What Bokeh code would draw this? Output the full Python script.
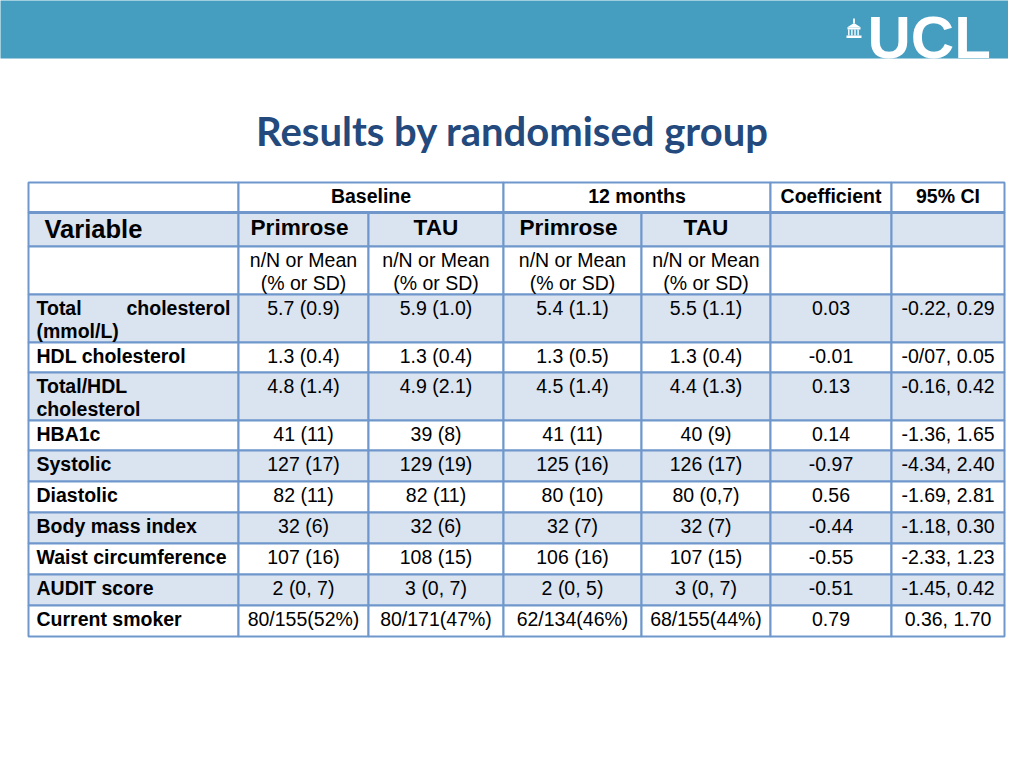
from bokeh.plotting import figure
from bokeh.models import Range1d, ColumnDataSource
from bokeh.core.properties import value
from bokeh.embed import file_html
from bokeh.resources import INLINE

# ---------------- data ----------------
title = "Results by randomised group"
logo_text = "UCL"
group_headers = ["Baseline", "12 months"]
stat_headers = ["Coefficient", "95% CI"]
variable_header = "Variable"
arm_headers = ["Primrose", "TAU", "Primrose", "TAU"]
stat_label = ["n/N or Mean", "(% or SD)"]

variables = ["Total cholesterol\n(mmol/L)", "HDL cholesterol", "Total/HDL\ncholesterol",
             "HBA1c", "Systolic", "Diastolic", "Body mass index",
             "Waist circumference", "AUDIT score", "Current smoker"]
baseline_primrose = ["5.7 (0.9)", "1.3 (0.4)", "4.8 (1.4)", "41 (11)", "127 (17)",
                     "82 (11)", "32 (6)", "107 (16)", "2 (0, 7)", "80/155(52%)"]
baseline_tau = ["5.9 (1.0)", "1.3 (0.4)", "4.9 (2.1)", "39 (8)", "129 (19)",
                "82 (11)", "32 (6)", "108 (15)", "3 (0, 7)", "80/171(47%)"]
m12_primrose = ["5.4 (1.1)", "1.3 (0.5)", "4.5 (1.4)", "41 (11)", "125 (16)",
                "80 (10)", "32 (7)", "106 (16)", "2 (0, 5)", "62/134(46%)"]
m12_tau = ["5.5 (1.1)", "1.3 (0.4)", "4.4 (1.3)", "40 (9)", "126 (17)",
           "80 (0,7)", "32 (7)", "107 (15)", "3 (0, 7)", "68/155(44%)"]
coefficient = ["0.03", "-0.01", "0.13", "0.14", "-0.97", "0.56", "-0.44",
               "-0.55", "-0.51", "0.79"]
ci95 = ["-0.22, 0.29", "-0/07, 0.05", "-0.16, 0.42", "-1.36, 1.65", "-4.34, 2.40",
        "-1.69, 2.81", "-1.18, 0.30", "-2.33, 1.23", "-1.45, 0.42", "0.36, 1.70"]

# ---------------- layout / style ----------------
FONT = value("Liberation Sans")
BANNER = "#459dc0"
BORDER = "#6f97cc"
BAND = "#dae3f0"
TITLE_C = "#23497d"

X0 = 28
col_widths = [210, 130, 135, 138, 129, 121, 113]
Y0 = 182
header_heights = [30, 34, 48]
row_heights = [48, 30, 48, 30, 31, 31, 31, 31, 31, 31]

xe = [X0]
for w in col_widths:
    xe.append(xe[-1] + w)
ye = [Y0]
for h in header_heights + row_heights:
    ye.append(ye[-1] + h)

p = figure(width=1008, height=752, output_backend="svg", toolbar_location=None,
           x_range=Range1d(0, 1008), y_range=Range1d(752, 0), min_border=0)
p.axis.visible = False
p.grid.visible = False
p.outline_line_color = None
p.background_fill_color = "white"
p.border_fill_color = "white"

# banner
p.quad(left=[-10], right=[1030], top=[-10], bottom=[58], fill_color=BANNER, line_color=None)

# logo: portico icon + UCL
p.quad(left=[846], right=[861], top=[35], bottom=[37.5], fill_color="white", line_color=None)
p.quad(left=[847], right=[860], top=[27], bottom=[29], fill_color="white", line_color=None)
p.vbar(x=[848.3, 851.4, 854.5, 857.6], width=1.4, top=29, bottom=35, fill_color="white", line_color=None)
p.patch(x=[846.5, 853.5, 860.5], y=[27, 22.5, 27], fill_color="white", line_color=None)
p.quad(left=[852.6], right=[854.4], top=[18], bottom=[22.5], fill_color="white", line_color=None)
p.text(x=[867], y=[36.5], text=[logo_text], text_font=FONT, text_font_style="bold",
       text_font_size="60px", text_color="white", text_baseline="middle", text_align="left")

# title
p.text(x=[512], y=[130], text=[title], text_font=value("Lato"), text_font_style="bold",
       text_font_size="40px", text_color=TITLE_C, text_baseline="middle", text_align="center")

# ---------------- cells ----------------
cells = dict(left=[], right=[], top=[], bottom=[], fill=[])
def add_cell(c0, c1, r, fill):
    cells["left"].append(xe[c0]); cells["right"].append(xe[c1 + 1])
    cells["top"].append(ye[r]); cells["bottom"].append(ye[r + 1])
    cells["fill"].append(fill)

# header row 0 (merged group cells)
add_cell(0, 0, 0, "white"); add_cell(1, 2, 0, "white"); add_cell(3, 4, 0, "white")
add_cell(5, 5, 0, "white"); add_cell(6, 6, 0, "white")
for c in range(7):
    add_cell(c, c, 1, BAND)
    add_cell(c, c, 2, "white")
for i in range(len(variables)):
    f = BAND if i % 2 == 0 else "white"
    for c in range(7):
        add_cell(c, c, 3 + i, f)

p.quad(left="left", right="right", top="top", bottom="bottom", fill_color="fill",
       line_color=BORDER, line_width=2, source=ColumnDataSource(cells))
p.segment(x0=[xe[0]], x1=[xe[-1]], y0=[ye[1]], y1=[ye[1]], line_color=BORDER, line_width=3)

# ---------------- texts ----------------
def mid(c0, c1=None):
    c1 = c0 if c1 is None else c1
    return (xe[c0] + xe[c1 + 1]) / 2

bold_c = dict(x=[], y=[], t=[])
norm_c = dict(x=[], y=[], t=[])
bold_l = dict(x=[], y=[], t=[])
bold_r = dict(x=[], y=[], t=[])

# header row 0
bold_c["x"] += [mid(1, 2), mid(3, 4), mid(5), mid(6)]
bold_c["y"] += [ye[0] + 13] * 4
bold_c["t"] += group_headers + stat_headers

# header row 1
arm_src = dict(x=[mid(c) - (4 if t == "Primrose" else 0) for c, t in zip(range(1, 5), arm_headers)],
               y=[ye[1] + 15] * 4, t=arm_headers)
p.text(x=[44], y=[ye[1] + 16.5], text=[variable_header], text_font=FONT, text_font_style="bold",
       text_font_size="25.5px", text_color="black", text_baseline="middle", text_align="left")
p.text(x="x", y="y", text="t", source=ColumnDataSource(arm_src), text_font=FONT,
       text_font_style="bold", text_font_size="22.6px", text_color="black",
       text_baseline="middle", text_align="center")

# header row 2
for c in range(1, 5):
    for k, s in enumerate(stat_label):
        norm_c["x"].append(mid(c)); norm_c["y"].append(ye[2] + 13 + 23 * k); norm_c["t"].append(s)

# data rows
columns = [baseline_primrose, baseline_tau, m12_primrose, m12_tau, coefficient, ci95]
for i, name in enumerate(variables):
    top = ye[3 + i]
    lines = name.split("\n")
    for k, ln in enumerate(lines):
        y = top + 13.5 + 23 * k
        if k < len(lines) - 1 and " " in ln:
            first, rest = ln.split(" ", 1)
            bold_l["x"].append(xe[0] + 8); bold_l["y"].append(y); bold_l["t"].append(first)
            bold_r["x"].append(xe[1] - 8); bold_r["y"].append(y); bold_r["t"].append(rest)
        else:
            bold_l["x"].append(xe[0] + 8); bold_l["y"].append(y); bold_l["t"].append(ln)
    for c, col in enumerate(columns):
        norm_c["x"].append(mid(c + 1)); norm_c["y"].append(top + 13.5); norm_c["t"].append(col[i])

for src, style, align in [(bold_c, "bold", "center"), (norm_c, "normal", "center"),
                          (bold_l, "bold", "left"), (bold_r, "bold", "right")]:
    p.text(x="x", y="y", text="t", source=ColumnDataSource(src), text_font=FONT,
           text_font_style=style, text_font_size="19.5px", text_color="black",
           text_baseline="middle", text_align=align)

open("out.html", "w").write(file_html(p, INLINE))
